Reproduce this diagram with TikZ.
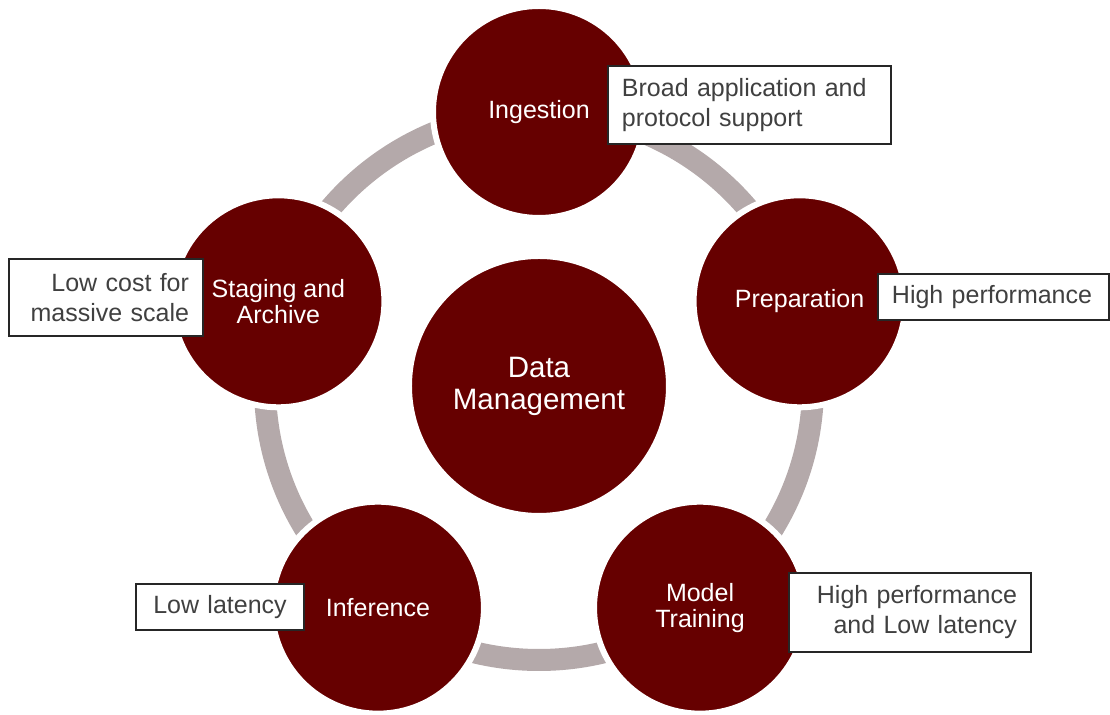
\documentclass[tikz,border=0pt]{standalone}
\usepackage{fontspec}
\setmainfont{Liberation Sans}
\usepackage{tikz}
\usepackage{xcolor}
\definecolor{bordeaux}{RGB}{102,0,0}
\definecolor{grisanneau}{RGB}{180,169,170}
\definecolor{gristexte}{RGB}{64,64,64}
\tikzset{
    cercle/.style={circle, fill=bordeaux, draw=white, line width=3pt, minimum size=106pt, inner sep=0pt, text=white, align=center, font=\fontsize{12.5pt}{13pt}\selectfont},
    centre/.style={cercle, minimum size=130pt, font=\fontsize{14.75pt}{16pt}\selectfont},
    anneau/.style={line width=11pt, grisanneau},
    boite/.style={rectangle, draw=black!85, fill=white, line width=1pt, text=gristexte, inner xsep=7pt, inner ysep=0pt, anchor=north west, font=\fontsize{12.5pt}{15pt}\selectfont},
}

\begin{document}
\begin{tikzpicture}[x=0.5pt, y=0.5pt]
\useasboundingbox (-539,-329) rectangle (571,386);
% Anneau
\coordinate (o) at (0,0);
\draw[anneau] (o) circle (274);
% Centre
\node[centre] (dm) at (o) {Data\\Management};
% Etapes
\foreach \ang/\nom/\txt in {90/ing/Ingestion, 18/prep/Preparation, -54/mod/{Model\\Training}, -126/inf/Inference, 162/stag/{Staging and\\Archive}}
    {\node[cercle] (\nom) at (\ang:274) {\txt};}
% Boites
\node[boite, align=left, text width=127.5pt, minimum height=39pt] (b-ing) at (68,321) {Broad application and\\protocol support};
\node[boite, align=left, text width=101.5pt, minimum height=23pt] (b-prep) at (338,113) {High performance};
\node[boite, align=right, text width=107pt, minimum height=39.5pt] (b-mod) at (249,-186) {High performance\\and Low latency};
\node[boite, align=center, text width=70pt, minimum height=23pt] (b-inf) at (-404,-197) {Low latency};
\node[boite, align=right, text width=83pt, minimum height=38.5pt] (b-stag) at (-531,128) {Low cost for\\massive scale};
\end{tikzpicture}
\end{document}
